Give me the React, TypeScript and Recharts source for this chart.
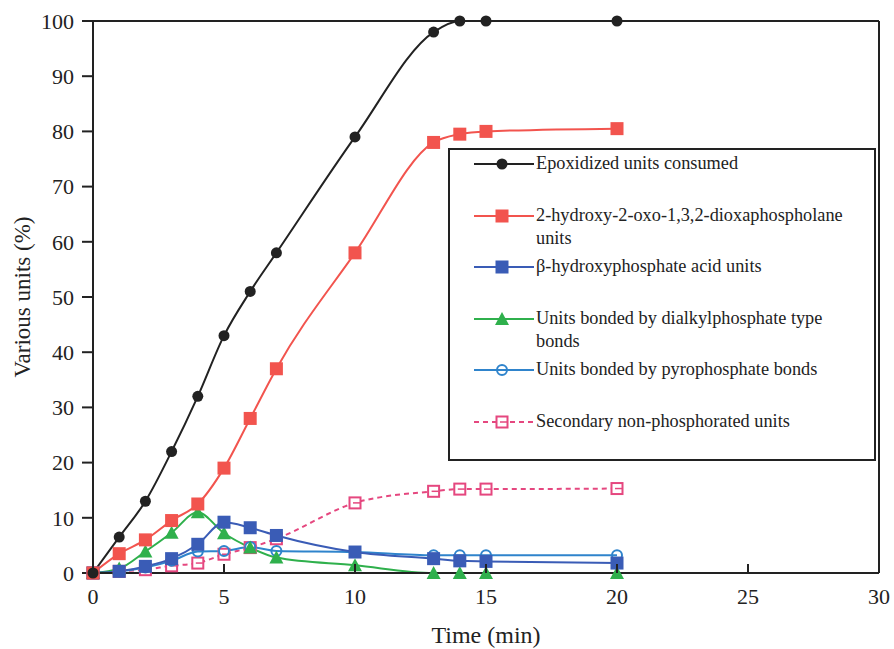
import { LineChart, Line, XAxis, YAxis, ReferenceLine, Legend } from 'recharts';

// sampling times (min)
const times = [0, 1, 2, 3, 4, 5, 6, 7, 10, 13, 14, 15, 20];

const epoxidized = [0, 6.5, 13, 22, 32, 43, 51, 58, 79, 98, 100, 100, 100];
const dioxaphospholane = [0, 3.5, 6, 9.5, 12.5, 19, 28, 37, 58, 78, 79.5, 80, 80.5];
const hydroxyphosphate = [0, 0.3, 1.2, 2.6, 5.2, 9.2, 8.2, 6.8, 3.8, 2.6, 2.2, 2.1, 1.8];
const dialkylphosphate = [0, 0.8, 3.9, 7.3, 11, 7.2, 4.6, 2.8, 1.4, 0, 0, 0, 0];
const pyrophosphate = [0, 0.3, 1, 2.2, 3.9, 4, 4.7, 4, 3.8, 3.2, 3.2, 3.2, 3.2];
const secondary = [0, 0.3, 0.6, 1.3, 1.8, 3.4, 4.6, 6.2, 12.7, 14.8, 15.2, 15.2, 15.3];

const xTicks = [0, 5, 10, 15, 20, 25, 30];
const yTicks = [0, 10, 20, 30, 40, 50, 60, 70, 80, 90, 100];

const data = times.map((t, i) => ({
  t,
  epoxidized: epoxidized[i],
  dioxaphospholane: dioxaphospholane[i],
  hydroxyphosphate: hydroxyphosphate[i],
  dialkylphosphate: dialkylphosphate[i],
  pyrophosphate: pyrophosphate[i],
  secondary: secondary[i]
}));

type Kind = 'disc' | 'square' | 'triangle' | 'ring' | 'openSquare';

const series: { key: string; label: string[]; color: string; kind: Kind; dashed?: boolean }[] = [
  { key: 'epoxidized', label: ['Epoxidized units consumed'], color: '#222222', kind: 'disc' },
  { key: 'dioxaphospholane', label: ['2-hydroxy-2-oxo-1,3,2-dioxaphospholane', 'units'], color: '#f2544e', kind: 'square' },
  { key: 'hydroxyphosphate', label: ['\u03b2-hydroxyphosphate acid units'], color: '#3a5cb6', kind: 'square' },
  { key: 'dialkylphosphate', label: ['Units bonded by dialkylphosphate type', 'bonds'], color: '#2fb04c', kind: 'triangle' },
  { key: 'pyrophosphate', label: ['Units bonded by pyrophosphate bonds'], color: '#2f84cc', kind: 'ring' },
  { key: 'secondary', label: ['Secondary non-phosphorated units'], color: '#e5477f', kind: 'openSquare', dashed: true }
];

const FONT = "'Liberation Serif', 'DejaVu Serif', serif";

function Marker({ cx, cy, kind, color }: { cx: number; cy: number; kind: Kind; color: string }) {
  if (cx == null || cy == null) return null;
  switch (kind) {
    case 'disc':
      return <circle cx={cx} cy={cy} r={5.5} fill={color} />;
    case 'square':
      return <rect x={cx - 6.5} y={cy - 6.5} width={13} height={13} fill={color} />;
    case 'triangle':
      return <polygon points={`${cx},${cy - 7} ${cx - 7},${cy + 6} ${cx + 7},${cy + 6}`} fill={color} />;
    case 'ring':
      return <circle cx={cx} cy={cy} r={5} fill="none" stroke={color} strokeWidth={2} />;
    case 'openSquare':
      return (
        <g>
          <rect x={cx - 5.5} y={cy - 5.5} width={11} height={11} fill="#fff" stroke={color} strokeWidth={2} />
          <line x1={cx - 2} y1={cy} x2={cx + 5} y2={cy} stroke={color} strokeWidth={1.5} />
        </g>
      );
  }
}

function XTick({ x, y, payload }: any) {
  return (
    <g>
      <line x1={x} y1={y} x2={x} y2={y - 9} stroke="#222" strokeWidth={2} />
      <text x={x} y={y + 31} textAnchor="middle" style={{ fontFamily: FONT }} fontSize={22} fill="#222">
        {payload.value}
      </text>
    </g>
  );
}

function LegendBox() {
  return (
    <div
      style={{
        width: 428,
        height: 313,
        boxSizing: 'border-box',
        border: '2px solid #222',
        background: '#fff',
        position: 'relative',
        fontFamily: FONT,
        fontSize: 18.3,
        color: '#222'
      }}
    >
      {series.map((s, i) => (
        <div key={s.key} style={{ position: 'absolute', left: 0, top: 14 + i * 51.5 - 12, width: 426 }}>
          <svg width={64} height={24} style={{ position: 'absolute', left: 22, top: 0 }}>
            <line x1={2} y1={12} x2={62} y2={12} stroke={s.color} strokeWidth={2} strokeDasharray={s.dashed ? '5 4' : undefined} />
            <Marker cx={30} cy={12} kind={s.kind} color={s.color} />
          </svg>
          <div style={{ position: 'absolute', left: 86, top: 0, lineHeight: '23px', whiteSpace: 'nowrap' }}>
            {s.label.map((l, j) => (
              <div key={j}>{l}</div>
            ))}
          </div>
        </div>
      ))}
    </div>
  );
}

export default function App() {
  return (
    <div style={{ position: 'absolute', left: 0, top: 0, background: '#fff' }}>
      <LineChart width={894} height={649} data={data} margin={{ top: 21, right: 15, bottom: 0, left: 0 }}>
        <XAxis
          dataKey="t"
          type="number"
          domain={[0, 30]}
          ticks={xTicks}
          tickLine={false}
          tickSize={0}
          tickMargin={0}
          tick={<XTick />}
          height={76}
          axisLine={{ stroke: '#222', strokeWidth: 2 }}
          label={{ value: 'Time (min)', position: 'insideBottom', offset: 6, fontSize: 24, fill: '#222', style: { fontFamily: FONT } }}
        />
        <YAxis
          type="number"
          domain={[0, 100]}
          ticks={yTicks}
          width={93}
          tickSize={11}
          tickMargin={8}
          tickLine={{ stroke: '#222', strokeWidth: 2 }}
          axisLine={{ stroke: '#222', strokeWidth: 2 }}
          tick={{ fontSize: 22, fill: '#222', style: { fontFamily: FONT } }}
          label={{ value: 'Various units (%)', angle: -90, position: 'insideLeft', offset: 22, fontSize: 23, fill: '#222', style: { textAnchor: 'middle', fontFamily: FONT } }}
        />
        <ReferenceLine y={100} stroke="#222" strokeWidth={2} />
        <ReferenceLine x={30} stroke="#222" strokeWidth={2} />
        <Legend
          layout="vertical"
          align="center"
          verticalAlign="middle"
          wrapperStyle={{ position: 'absolute', left: 448, top: 148, width: 428, height: 313 }}
          content={() => <LegendBox />}
        />
        {[...series].reverse().map(s => (
          <Line
            key={s.key}
            dataKey={s.key}
            type="monotone"
            stroke={s.color}
            strokeWidth={2}
            strokeDasharray={s.dashed ? '5 4' : undefined}
            dot={(p: any) => <Marker key={`${s.key}-${p.index}`} cx={p.cx} cy={p.cy} kind={s.kind} color={s.color} />}
            activeDot={false}
            isAnimationActive={false}
          />
        ))}
      </LineChart>
    </div>
  );
}
